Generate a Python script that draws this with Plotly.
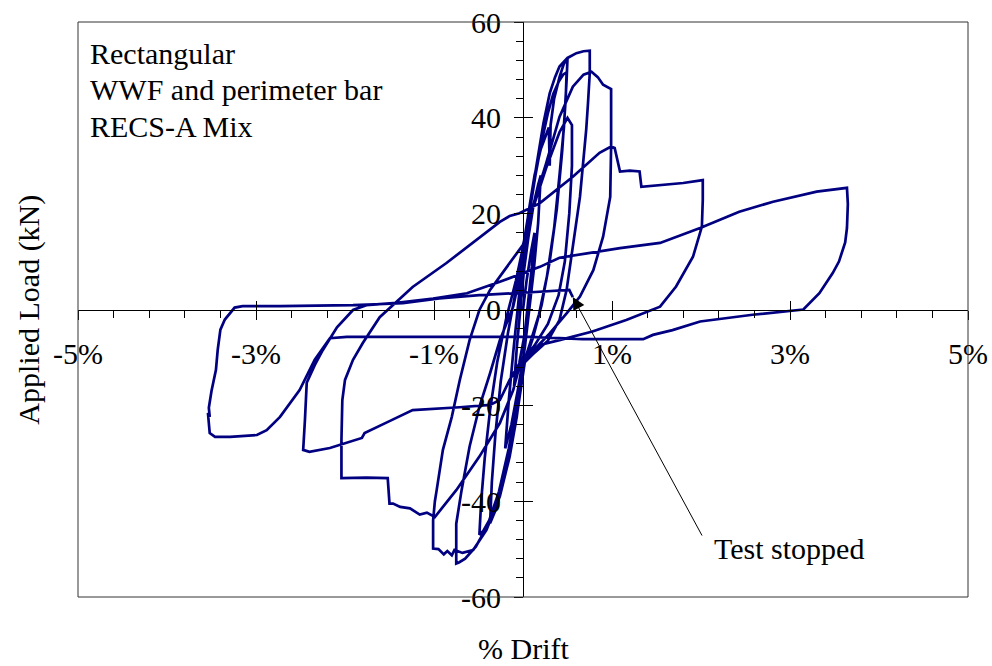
import plotly.graph_objects as go

# ---------------- data: (drift %, applied load kN) ----------------
# elastic / small cycles up to +0.75 % / -0.75 %
cycles_small = [
    (0.00, 0), (0.04, 6), (0.09, 12), (0.13, 16),
    (0.10, 9), (0.06, 2), (0.02, -5), (-0.04, -11), (-0.10, -16),
    (-0.07, -8), (-0.03, 0), (0.01, 8), (0.06, 15), (0.12, 22), (0.17, 26), (0.20, 28),
    (0.17, 18), (0.12, 8), (0.07, 0), (0.02, -8), (-0.05, -16), (-0.13, -24), (-0.20, -29),
    (-0.16, -19), (-0.11, -9), (-0.05, 2), (0.00, 11), (0.06, 20), (0.13, 28), (0.20, 33.5),
    (0.26, 36.5), (0.29, 38), (0.30, 30), (0.31, 38.5), (0.35, 44), (0.41, 48.5), (0.46, 51.3), (0.50, 52.4),
    (0.49, 47.9), (0.46, 38), (0.41, 28), (0.35, 17), (0.27, 7), (0.18, -1), (0.08, -7), (0.01, -11),
    (-0.06, -19), (-0.14, -29), (-0.22, -36), (-0.30, -41.5), (-0.37, -44.6),
    (-0.35, -36), (-0.31, -26), (-0.25, -15), (-0.17, -5), (-0.08, 4), (0.00, 12), (0.07, 20), (0.14, 28),
    (0.21, 35), (0.28, 41), (0.34, 45), (0.40, 47.5), (0.45, 49), (0.49, 49.5),
    (0.48, 44), (0.44, 33), (0.38, 21), (0.30, 10), (0.21, 1), (0.11, -6), (0.02, -11), (-0.06, -19),
    (-0.16, -29), (-0.27, -38), (-0.38, -44), (-0.45, -46.3), (-0.49, -47),
    (-0.47, -40), (-0.43, -31), (-0.37, -21), (-0.29, -11), (-0.19, -2), (-0.08, 6), (0.00, 13), (0.08, 22),
    (0.16, 31), (0.23, 38.9), (0.30, 45.1), (0.36, 48.5), (0.41, 50.7), (0.50, 52.5), (0.60, 53.5),
    (0.68, 53.9), (0.75, 54.0),
    (0.75, 49.3), (0.73, 43), (0.71, 37.5), (0.64, 23.5), (0.56, 13.1), (0.49, 4.1), (0.41, -2.2),
    (0.28, -6.5), (0.13, -9), (0.02, -11), (-0.06, -21), (-0.16, -31), (-0.28, -39.5), (-0.41, -45.5),
    (-0.53, -49.5), (-0.65, -52), (-0.72, -52.8), (-0.75, -53),
]

# 1 % cycles
cycles_1pct = [
    (-0.75, -44.7), (-0.69, -37.7), (-0.60, -28.6), (-0.49, -20.3), (-0.37, -13.3), (-0.26, -6.4),
    (-0.11, 0.6), (0.00, 10), (0.11, 21.5), (0.26, 30.5), (0.41, 40.2), (0.56, 46.5), (0.68, 49),
    (0.77, 49.6), (0.84, 48.5), (0.90, 46.9), (0.99, 46.0),
    (0.99, 40), (0.99, 34), (0.98, 23.5), (0.94, 19), (0.90, 15.2), (0.79, 8.2), (0.64, 2.7), (0.49, -0.8),
    (0.30, -5), (0.12, -8.5), (0.01, -11), (-0.07, -22.4), (-0.15, -30.7), (-0.26, -39), (-0.41, -46),
    (-0.56, -50.2), (-0.68, -50.8), (-0.77, -50.2),
    (-0.80, -51.3), (-0.85, -50.4), (-0.89, -51.1), (-0.95, -50.0), (-1.01, -49.9),
    (-1.01, -44), (-0.99, -40), (-0.97, -37.7), (-0.90, -29.3), (-0.80, -22.4), (-0.71, -14.7),
    (-0.60, -6.4), (-0.49, -0.1), (-0.37, 4.1), (-0.22, 8), (-0.08, 11.5), (0.00, 13.5),
    (0.11, 21), (0.26, 29.5), (0.41, 37), (0.50, 40), (0.55, 38.5),
    (0.55, 30), (0.52, 20), (0.47, 10), (0.40, 3), (0.28, -3), (0.13, -7.5), (0.02, -10),
]

# 2 % cycles
cycles_2pct = [
    (-0.04, -11.9), (-0.11, -16.8), (-0.26, -23.7), (-0.49, -30.7), (-0.75, -37.7), (-0.99, -43.3),
    (-1.08, -42.4), (-1.16, -42.8), (-1.27, -41.5), (-1.38, -41.2), (-1.46, -40.5), (-1.50, -40.5),
    (-1.52, -35.2), (-1.76, -35.1), (-2.04, -35.2),
    (-2.04, -27.2), (-2.03, -18.9), (-2.00, -14.7), (-1.91, -10.5), (-1.80, -7.0), (-1.61, -1.6),
    (-1.42, 1.6), (-1.24, 4.7), (-0.86, 9.7), (-0.49, 15.1), (-0.26, 18.3), (-0.15, 19.5), (-0.04, 20.1),
    (0.19, 22.2), (0.56, 27.7), (0.86, 32.7), (0.99, 34.0), (1.03, 33.7), (1.09, 28.8), (1.20, 29.0),
    (1.31, 28.8), (1.33, 25.6), (1.54, 26.0), (1.80, 26.4), (2.02, 27.0),
    (2.02, 22.9), (2.01, 17.3), (1.91, 11.0), (1.72, 4.8), (1.54, 0.6), (1.16, -2.2), (0.78, -4.6),
    (0.41, -6.4), (0.19, -7.4), (0.00, -10.0), (-0.15, -14.7), (-0.26, -18.9), (-0.37, -19.9),
    (-0.71, -20.4), (-1.24, -21.0), (-1.50, -23.3), (-1.78, -25.8), (-1.81, -26.8), (-2.17, -28.9),
    (-2.40, -29.7), (-2.47, -29.3),
]

# large cycles (+3.6 % / -3.5 %) and final push where the test stopped
cycles_large = [
    (-2.45, -23.0), (-2.43, -15.3), (-2.34, -11.6), (-2.25, -8.5), (-2.09, -3.7), (-1.91, -0.1),
    (-1.76, 0.9), (-1.42, 1.4), (-1.01, 2.3), (-0.63, 3.4), (-0.26, 5.8), (0.19, 8.9), (0.41, 10.8),
    (1.09, 12.8), (1.54, 13.9), (1.99, 17.0), (2.43, 20.4), (2.81, 22.5), (3.30, 24.6), (3.48, 25.1),
    (3.64, 25.4),
    (3.65, 22.0), (3.64, 17.0), (3.62, 14.0), (3.55, 10.0), (3.48, 7.6), (3.33, 3.4), (3.15, 0.0),
    (2.99, -0.3), (2.58, -1.1), (1.99, -2.5), (1.68, -4.3), (1.46, -5.3), (1.35, -6.2), (0.67, -6.2),
    (0.08, -5.7), (-0.82, -5.7), (-1.98, -5.7), (-2.17, -6.0), (-2.34, -10.5), (-2.51, -16.8),
    (-2.73, -22.4), (-2.88, -25.2), (-2.99, -26.2), (-3.29, -26.6), (-3.46, -26.6), (-3.52, -25.8),
    (-3.53, -24.1), (-3.54, -21.6), (-3.52, -22.4), (-3.53, -20.5), (-3.50, -17.0), (-3.47, -14.7),
    (-3.45, -12.6), (-3.43, -8.4), (-3.40, -4.2), (-3.35, -2.1), (-3.29, -0.8), (-3.24, 0.4),
    (-3.15, 0.7), (-2.73, 0.7), (-1.91, 0.9), (-1.35, 1.3), (-0.94, 2.3), (-0.49, 3.0), (0.00, 3.5),
    (0.30, 3.9), (0.52, 4.1), (0.54, 3.3), (0.56, 2.6),
]

x_tickvals = [-5, -3, -1, 1, 3, 5]
x_ticktext = ["-5%", "-3%", "-1%", "1%", "3%", "5%"]
y_tickvals = [-60, -40, -20, 0, 20, 40, 60]
y_ticktext = ["-60", "-40", "-20", "0", "20", "40", "60"]

note_lines = ["Rectangular", "WWF and perimeter bar", "RECS-A Mix"]

# ---------------- figure ----------------
path = cycles_small + cycles_1pct + cycles_2pct + cycles_large
drift = [p[0] for p in path]
load = [p[1] for p in path]

FONT = "Liberation Serif"
FS = 30
LINE = "#000080"

fig = go.Figure()
fig.add_trace(go.Scatter(x=drift, y=load, mode="lines",
                         line=dict(color=LINE, width=2.7),
                         showlegend=False, hoverinfo="skip"))
# empty trace to make the overlay axes (inner half of the crossing major ticks) exist
fig.add_trace(go.Scatter(x=[None], y=[None], xaxis="x2", yaxis="y2",
                         showlegend=False, hoverinfo="skip"))

common = dict(showgrid=False, zeroline=False, anchor="free", position=0.5, automargin=False)

fig.update_layout(
    width=992, height=666,
    margin=dict(l=78, r=24, t=22, b=69, autoexpand=False),
    paper_bgcolor="white", plot_bgcolor="white",
    font=dict(family=FONT, size=FS, color="black"),
    showlegend=False,
    xaxis=dict(range=[-5, 5], showline=True, linecolor="black", linewidth=1,
               tickmode="array", tickvals=x_tickvals, ticktext=x_ticktext,
               ticks="outside", ticklen=9, tickwidth=1, tickcolor="black",
               ticklabelstandoff=8, ticklabeloverflow="allow",
               tickfont=dict(family=FONT, size=FS, color="black"),
               minor=dict(tickmode="linear", tick0=-5, dtick=0.4, ticks="outside",
                          ticklen=7, tickwidth=1, tickcolor="black", showgrid=False),
               **common),
    yaxis=dict(range=[-60, 60], showline=True, linecolor="black", linewidth=1,
               tickmode="array", tickvals=y_tickvals, ticktext=y_ticktext,
               ticks="outside", ticklen=9, tickwidth=1, tickcolor="black",
               ticklabelstandoff=7, ticklabeloverflow="allow",
               tickfont=dict(family=FONT, size=FS, color="black"),
               minor=dict(tickmode="linear", tick0=-60, dtick=4, ticks="outside",
                          ticklen=7, tickwidth=1, tickcolor="black", showgrid=False),
               **common),
    xaxis2=dict(range=[-5, 5], overlaying="x", showline=False,
                tickmode="array", tickvals=x_tickvals, ticks="inside", ticklen=9,
                tickwidth=1, tickcolor="black", showticklabels=False, **common),
    yaxis2=dict(range=[-60, 60], overlaying="y", showline=False,
                tickmode="array", tickvals=y_tickvals, ticks="inside", ticklen=9,
                tickwidth=1, tickcolor="black", showticklabels=False, **common),
    shapes=[dict(type="rect", xref="paper", yref="paper", x0=0, y0=0, x1=1, y1=1,
                 line=dict(color="#333333", width=1), layer="above")],
)

annotations = []
for i, txt in enumerate(note_lines):
    annotations.append(dict(text=txt, xref="paper", yref="paper", x=0.011,
                            y=0.946 - i * 0.0635, xanchor="left", yanchor="middle",
                            showarrow=False, font=dict(family=FONT, size=FS, color="black")))
annotations.append(dict(text="% Drift", xref="paper", yref="paper", x=0.5, y=-0.089,
                        xanchor="center", yanchor="middle", showarrow=False,
                        font=dict(family=FONT, size=FS, color="black")))
annotations.append(dict(text="Applied Load (kN)", xref="paper", yref="paper", x=-0.056, y=0.5,
                        xanchor="center", yanchor="middle", textangle=-90, showarrow=False,
                        font=dict(family=FONT, size=FS, color="black")))
annotations.append(dict(text="Test stopped", xref="paper", yref="paper", x=0.7124, y=0.085,
                        xanchor="left", yanchor="middle", showarrow=False,
                        font=dict(family=FONT, size=FS, color="black")))
annotations.append(dict(text="", x=drift[-1], y=load[-1], xref="x", yref="y",
                        showarrow=True, ax=130, ay=240, axref="pixel", ayref="pixel",
                        arrowhead=2, arrowsize=2.5, arrowwidth=1, arrowcolor="black"))
fig.update_layout(annotations=annotations)

# remove the default 8 px page margin so the figure fills the window exactly
fig.write_html("out.html",
               config={"displayModeBar": False},
               post_script="document.body.style.margin='0';document.body.style.overflow='hidden';")
